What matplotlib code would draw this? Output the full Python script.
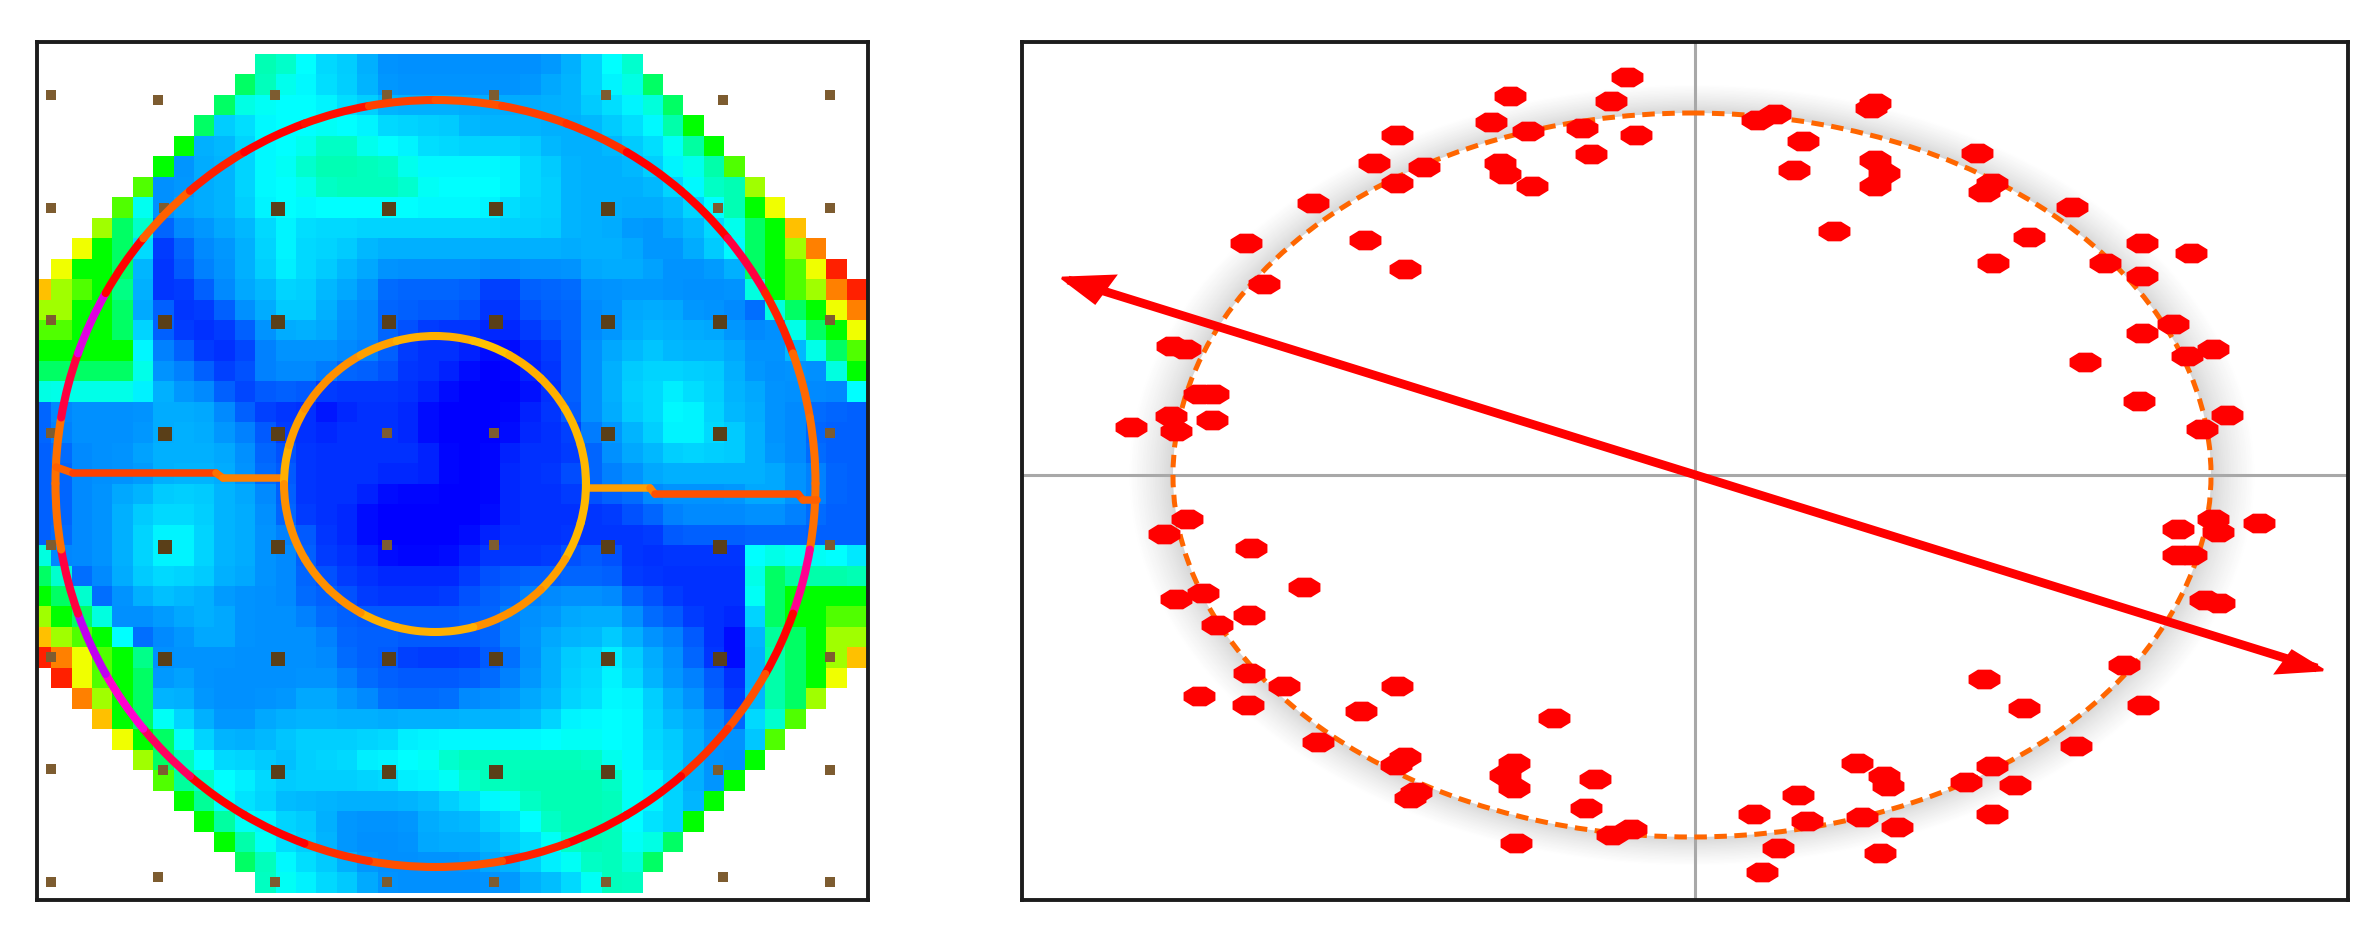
import numpy as np
import matplotlib
matplotlib.use('Agg')
import matplotlib.pyplot as plt
from matplotlib.collections import LineCollection
from matplotlib.colors import LinearSegmentedColormap
from matplotlib.markers import MarkerStyle
from matplotlib.patches import Arc, Ellipse
from matplotlib.transforms import Affine2D

# Peta kiri: kode warna 0-f tiap sel, '.' = di luar wafer
heat_rows = [
    "...........7765543333 333334567...........",
    "..........87665543333 3333445668..........",
    ".........866666554444 44444455668.........",
    "........8556666665555 444444455679........",
    ".......94456667766655 5555444455679.......",
    "......934456677777666 6665544445667a......",
    ".....a334456667777766 66655444445677b.....",
    "....a6344456666666666 665554444445679c....",
    "...b87233445655555555 5555544433445689d...",
    "..c985123345655544444 4444444443345689be..",
    ".c9984123345655443333 3333334444333489acf.",
    "dba974112344554432222 2112223333333369abef",
    "bb9984211234554332222 211222334443332689ce",
    "aa9985211123444332211 1111223344444333689c",
    "999996321113333332111 1001123445444433468a",
    "888886332123333222111 00011234555554333369",
    "666666433212221111110 00001234556554433336",
    "233333444321110111100 00011234556654433222",
    "233333444332111111100 00011133456655433222",
    "223334444432211111110 00111123445555433222",
    "223333444432211111110 00111223344444443322",
    "223344555443211110000 00111122233333443322",
    "223345555443211100000 00111111223333333222",
    "223345665443321100000 01111111112222222222",
    "633345665443321110000 11111222111111666665",
    "862345555443322111111 12222222111111687777",
    "986234544333322211111 22233333221111689999",
    "b98633344433332222222 223334443221115899aa",
    "dba962334433333222222 223344454332104789bb",
    "feca97333333333222111 122345565432104789bd",
    ".fca98343333333322222 223345565433214789c.",
    "..eb98443333344332222 33344556654321478b..",
    "...d98654334444444444 4444566665443257a...",
    "....c9865444555555666 666666666554335a....",
    ".....b876555455566667 777777766554339.....",
    "......a77665555555666 77777777665439......",
    ".......97655444444445 5667777766549.......",
    "........9766554333344 455677776559........",
    ".........976554333344 44556777668.........",
    "..........87655433333 3445667768..........",
    "...........7665543333 333445677...........",
]
heat_colors = ['#0000ff', '#0030ff', '#0060ff', '#0090ff', '#00b0ff', '#00d4ff',
               '#00ffff', '#00ffb4', '#00ff64', '#00ff00', '#50ff00', '#a0ff00',
               '#f0ff00', '#ffc000', '#ff8000', '#ff2000']

# Titik ukur kecil dan besar
small_x = [51, 158, 275, 387, 494, 606, 723, 830, 51, 164, 718, 830, 51, 830, 51, 387, 494, 830,
           51, 387, 494, 830, 51, 830, 51, 163, 718, 830, 51, 158, 275, 387, 494, 606, 723, 830]
small_y = [95, 100, 95, 95, 95, 95, 100, 95, 208, 208, 208, 208, 320, 320, 433, 433, 433, 433,
           545, 545, 545, 545, 657, 657, 769, 770, 770, 770, 882, 877, 882, 882, 882, 882, 877, 882]
big_x = [278, 389, 496, 608, 165, 278, 389, 496, 608, 720, 165, 278, 608, 720,
         165, 278, 608, 720, 165, 278, 389, 496, 608, 720, 278, 389, 496, 608]
big_y = [209, 209, 209, 209, 322, 322, 322, 322, 322, 322, 434, 434, 434, 434,
         547, 547, 547, 547, 659, 659, 659, 659, 659, 659, 772, 772, 772, 772]

# Lingkaran luar: pusat, jari-jari, warna tiap busur 10 derajat mulai dari kiri
outer_center = (435.5, 483.5)
outer_rx, outer_ry = 380, 383.5
outer_colors = ['#ff7000', '#ff0040', '#e000e0', '#ff0000', '#ff6000', '#ff2000', '#ff0000', '#ff1000', '#ff4000',
                '#ff5000', '#ff4000', '#ff3000', '#ff0000', '#ff0000', '#ff0040', '#ff2000', '#ff6800', '#ff7000',
                '#ff7000', '#ff0090', '#ff0000', '#ff5000', '#ff3000', '#ff0000', '#ff0000', '#ff2000', '#ff5000',
                '#ff5000', '#ff3000', '#ff0000', '#ff0000', '#ff0060', '#ff00d0', '#c000f0', '#ff0040', '#ff7000']

# Lingkaran dalam: warna tiap busur 15 derajat mulai dari kiri
inner_center = (435, 484)
inner_rx, inner_ry = 151, 148
inner_colors = ['#ffb000', '#ffa000', '#ff9000', '#ff9000', '#ffa000', '#ffb000', '#ffb000', '#ffc000',
                '#ffb000', '#ffb000', '#ffb800', '#ffb800', '#ffb800', '#ffb800', '#ffa000', '#ff9000',
                '#ff9000', '#ffb000', '#ffb000', '#ffb000', '#ff9000', '#ff9000', '#ff9000', '#ff9000']

# Garis penghubung kiri dan kanan
link_left_x = [56, 73, 216, 223, 284]
link_left_y = [467, 473, 473, 478, 478]
link_left_colors = ['#ff6000', '#ff4000', '#ff7000', '#ff8000']
link_right_x = [588, 650, 655, 798, 803, 817]
link_right_y = [488, 488, 494, 494, 500, 500]
link_right_colors = ['#ffa000', '#ff8000', '#ff5000', '#ff5000', '#ff6000']

# Panel kanan: titik data
point_x = [1627, 1510, 1611, 1491, 1528, 1582, 1636, 1591, 1397, 1374, 1424, 1397, 1500, 1505, 1532,
           1313, 1246, 1365, 1405, 1264, 1172, 1185, 1199, 1213, 1171, 1212, 1131, 1176,
           1757, 1775, 1803, 1794, 1875, 1871, 1875, 1884, 1875, 1834, 1977, 1992, 1984, 2072, 2029, 1993,
           2142, 2191, 2105, 2142, 2173, 2142, 2213, 2187, 2085, 2139, 2227, 2202,
           1187, 1164, 1251, 1304, 1203, 1176, 1249, 1217, 1249, 1284, 1199, 1248, 1397, 1361, 1318,
           1405, 1396, 1416, 1410, 1554, 1514, 1505, 1514, 1595, 1586, 1516, 1631, 1612,
           2213, 2259, 2178, 2218, 2178, 2191, 2205, 2219, 2124, 1984, 2024, 2143, 2076, 1992, 1857, 1884,
           1888, 1966, 2015, 1798, 1754, 1807, 1862, 1897, 1992, 1778, 1880, 1762]
point_y = [77, 96, 101, 122, 131, 128, 135, 154, 135, 163, 167, 183, 163, 174, 186,
           203, 243, 240, 269, 284, 346, 349, 394, 394, 416, 420, 427, 431,
           120, 114, 141, 170, 103, 108, 160, 173, 186, 231, 153, 183, 192, 207, 237, 263,
           243, 253, 263, 276, 324, 333, 349, 356, 362, 401, 415, 429,
           519, 534, 548, 587, 593, 599, 615, 625, 673, 686, 696, 705, 686, 711, 742,
           757, 765, 792, 798, 718, 763, 775, 788, 779, 808, 843, 829, 835,
           519, 523, 529, 532, 555, 555, 600, 603, 665, 679, 708, 705, 746, 766, 763, 776,
           786, 782, 785, 795, 814, 821, 817, 827, 814, 848, 853, 872]

# Panah merah
arrow_x = [1068, 2317]
arrow_y = [280, 668]
head_left_x = [1062, 1115, 1095]
head_left_y = [278, 276, 303]
head_right_x = [2323, 2292, 2276]
head_right_y = [670, 651, 673]

# Lingkaran putus-putus dan garis silang
ring_center = (1692, 475)
ring_rx, ring_ry = 519, 362
cross_x, cross_y = 1695, 475

W, H = 2379, 938
fig = plt.figure(figsize=(W / 100, H / 100), dpi=100)
fig.patch.set_facecolor('white')


def make_axes(x0, x1, y0, y1):
    ax = fig.add_axes([x0 / W, 1 - y1 / H, (x1 - x0) / W, (y1 - y0) / H])
    ax.set_xlim(x0, x1)
    ax.set_ylim(y1, y0)
    ax.set_xticks([])
    ax.set_yticks([])
    for s in ax.spines.values():
        s.set_linewidth(2.8)
        s.set_color('#1c1c1c')
    return ax


def colored_line(ax, xs, ys, colors, lw, z):
    pts = np.column_stack([xs, ys])
    segs = np.stack([pts[:-1], pts[1:]], axis=1)
    ax.add_collection(LineCollection(segs, colors=colors, linewidths=lw, capstyle='round', zorder=z))


# Busur berwarna, sudut mulai dari kiri searah jarum jam
def colored_ring(ax, center, rx, ry, colors, lw, z):
    step = 360 / len(colors)
    for i, col in enumerate(colors):
        ax.add_patch(Arc(center, 2 * rx, 2 * ry, theta1=180 + i * step, theta2=180 + (i + 1) * step,
                         color=col, lw=lw, capstyle='round', zorder=z))


# Haluskan sedikit gradasi biru, tepi tajam tetap
def soften(grid):
    out = grid.copy()
    for r in range(grid.shape[0]):
        for c in range(grid.shape[1]):
            if np.isnan(grid[r, c]) or grid[r, c] > 7:
                continue
            total, weight = grid[r, c] * 0.5, 0.5
            for dr, dc in [(-1, 0), (1, 0), (0, -1), (0, 1)]:
                rr, cc = r + dr, c + dc
                if 0 <= rr < grid.shape[0] and 0 <= cc < grid.shape[1] and abs(grid[rr, cc] - grid[r, c]) <= 2:
                    total += grid[rr, cc] * 0.125
                    weight += 0.125
            out[r, c] = total / weight
    return out


# Panel kiri
ax1 = make_axes(37, 868, 42, 900)
cell = np.array([[np.nan if c == '.' else int(c, 16) for c in r.replace(' ', '')] for r in heat_rows], dtype=float)
heat_cmap = LinearSegmentedColormap.from_list('heat', heat_colors, N=256)
ax1.imshow(soften(cell), cmap=heat_cmap, vmin=0, vmax=15, interpolation='nearest',
           extent=(31, 866, 892.5, 54), aspect='auto', zorder=1)
ax1.set_xlim(37, 868)
ax1.set_ylim(900, 42)
ax1.scatter(small_x, small_y, s=48, marker='s', color='#7d5c30', linewidths=0, zorder=2)
ax1.scatter(big_x, big_y, s=105, marker='s', color='#5a3f18', linewidths=0, zorder=2)
colored_ring(ax1, outer_center, outer_rx, outer_ry, outer_colors, 5.8, 3)
colored_line(ax1, link_left_x, link_left_y, link_left_colors, 5.4, 3)
colored_line(ax1, link_right_x, link_right_y, link_right_colors, 5.4, 3)
colored_ring(ax1, inner_center, inner_rx, inner_ry, inner_colors, 5.8, 4)

# Panel kanan
ax2 = make_axes(1022, 2348, 42, 900)

# Bayangan abu-abu di luar lingkaran, dari luar ke dalam
for d in np.arange(1.0, 0.0, -0.04):
    grey = 0.82 + 0.18 * d ** 0.7
    ax2.add_patch(Ellipse(ring_center, 2 * (ring_rx + 45 * d), 2 * (ring_ry + 29 * d),
                          facecolor=str(grey), edgecolor='none', zorder=1))
ax2.add_patch(Ellipse(ring_center, 2 * ring_rx, 2 * ring_ry, facecolor='white', edgecolor='none', zorder=1))

ax2.axhline(cross_y, color='#a8a8a8', lw=2.2, zorder=2)
ax2.axvline(cross_x, color='#a8a8a8', lw=2.2, zorder=2)
ax2.add_patch(Ellipse(ring_center, 2 * ring_rx, 2 * ring_ry, facecolor='none', edgecolor='#ff6600',
                      lw=3.6, linestyle=(0, (2.5, 1.5)), zorder=3))

pill = MarkerStyle('8', transform=Affine2D().scale(1.62, 1))
ax2.scatter(point_x, point_y, s=235, marker=pill, color='#ff0000', linewidths=0, zorder=4)

ax2.plot(arrow_x, arrow_y, color='#ff0000', lw=6.3, solid_capstyle='butt', zorder=5)
ax2.fill(head_left_x, head_left_y, color='#ff0000', lw=2, zorder=5)
ax2.fill(head_right_x, head_right_y, color='#ff0000', lw=2, zorder=5)

plt.savefig('out.png', dpi=100)
